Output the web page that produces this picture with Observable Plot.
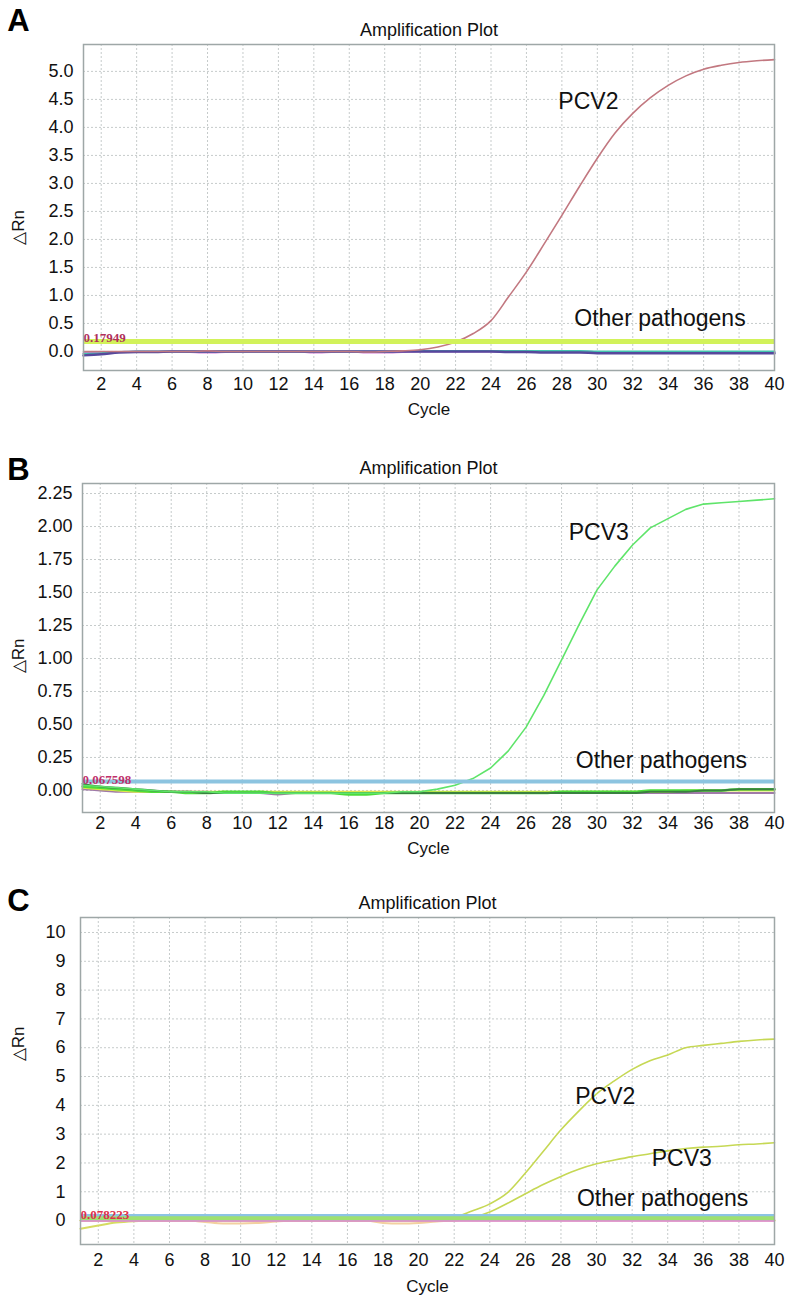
<!DOCTYPE html>
<html>
<head>
<meta charset="utf-8">
<script src="https://cdn.jsdelivr.net/npm/d3@7"></script>
<script src="https://cdn.jsdelivr.net/npm/@observablehq/plot@0.6"></script>
<style>
  html, body { margin: 0; padding: 0; background: white; }
  #chart { width: 786px; }
  #chart svg { display: block; }
</style>
</head>
<body>
<div id="chart"></div>
<script>
// ---------- shared axes ----------
const cycles = [1,2,3,4,5,6,7,8,9,10,11,12,13,14,15,16,17,18,19,20,21,22,23,24,25,26,27,28,29,30,31,32,33,34,35,36,37,38,39,40];
const xTickValues = [2,4,6,8,10,12,14,16,18,20,22,24,26,28,30,32,34,36,38,40];

// ---------- panel A ----------
const aYTicks = [0,0.5,1,1.5,2,2.5,3,3.5,4,4.5,5];
const aPCV2 = [0,0,0,0,0,0,0,0.01,0,0, 0,0,0,0,0,0,-0.01,0,0.01,0.03, 0.08,0.17,0.32,0.55,0.98,1.42,1.92,2.43,2.95,3.45, 3.9,4.25,4.53,4.75,4.92,5.04,5.11,5.16,5.19,5.21];
const aOtherPurple = [-0.07,-0.05,-0.02,-0.01,-0.01,0,0,0,0,0, 0,0,0,0,0,0,0,0,0,0, 0,0,0,0,-0.01,-0.01,-0.02,-0.02,-0.02,-0.03, -0.03,-0.03,-0.03,-0.03,-0.03,-0.03,-0.03,-0.03,-0.03,-0.03];
const aOtherTeal = [-0.04,-0.03,-0.01,0,0,0,0,0,0,0, 0,0,0,0,0,0,0,0,0.01,0.01, 0.01,0.01,0.01,0.01,0.01,0.01,0.01,0.01,0.01,0, 0,0,0,0,0,0,0,0,0,0];
const aOtherMagenta = [-0.03,-0.02,-0.01,0,0,0,-0.01,-0.02,-0.01,0, 0,0,0,-0.02,-0.01,0,-0.02,-0.02,-0.01,0, 0,0,0,0,0,0,0,0,0,-0.01, -0.02,-0.02,-0.02,-0.02,-0.02,-0.02,-0.02,-0.02,-0.02,-0.02];
const aThreshold = 0.17949;

// ---------- panel B ----------
const bYTicks = [0,0.25,0.5,0.75,1,1.25,1.5,1.75,2,2.25];
const bPCV3 = [0.04,0.03,0.02,0.01,0,-0.01,-0.01,-0.01,-0.02,-0.02, -0.02,-0.02,-0.02,-0.02,-0.02,-0.02,-0.02,-0.02,-0.01,-0.01, 0.01,0.04,0.09,0.17,0.3,0.48,0.72,0.99,1.26,1.52, 1.7,1.86,1.99,2.06,2.13,2.17,2.18,2.19,2.2,2.21];
const bOtherDark = [0.05,0.03,0.02,0.01,0,-0.01,-0.01,-0.02,-0.02,-0.02, -0.02,-0.02,-0.02,-0.02,-0.02,-0.02,-0.02,-0.02,-0.02,-0.02, -0.02,-0.02,-0.02,-0.02,-0.02,-0.02,-0.02,-0.02,-0.02,-0.02, -0.02,-0.02,-0.01,-0.01,-0.01,0,0,0.01,0.01,0.01];
const bOtherGreen = [0.03,0.02,0.01,0,-0.01,-0.01,-0.02,-0.02,-0.01,-0.01, -0.01,-0.02,-0.02,-0.02,-0.02,-0.03,-0.03,-0.02,-0.02,-0.02, -0.02,-0.02,-0.02,-0.02,-0.02,-0.02,-0.02,-0.01,-0.01,-0.01, -0.01,-0.01,0,0,0,0,0,0.01,0.01,0.01];
const bOtherYellow = [0.02,0.01,0,-0.01,-0.01,-0.01,-0.01,-0.01,-0.01,-0.02, -0.01,-0.01,-0.01,-0.01,-0.01,-0.01,-0.01,-0.01,-0.01,-0.01, -0.01,-0.01,-0.01,-0.01,-0.01,-0.01,-0.01,-0.01,-0.01,-0.01, -0.01,-0.01,-0.01,-0.01,0,0,0,0,0,0];
const bOtherPurple = [0.01,0,-0.01,-0.01,-0.01,-0.01,-0.01,-0.01,-0.02,-0.02, -0.02,-0.03,-0.02,-0.02,-0.02,-0.02,-0.02,-0.02,-0.02,-0.02, -0.02,-0.02,-0.02,-0.02,-0.02,-0.02,-0.02,-0.02,-0.02,-0.02, -0.02,-0.02,-0.02,-0.02,-0.02,-0.02,-0.02,-0.02,-0.02,-0.02];
const bThreshold = 0.067598;

// ---------- panel C ----------
const cYTicks = [0,1,2,3,4,5,6,7,8,9,10];
const cPCV2 = [0,0,0,0,0,0,0,0,0,0, 0,0,0,0,0,0,0,0,0,0, 0.02,0.1,0.33,0.58,0.97,1.65,2.4,3.15,3.8,4.4, 4.85,5.25,5.55,5.75,6.0,6.08,6.15,6.22,6.27,6.3];
const cPCV3 = [0,0,0,0,0,0,0,0,0,0, 0,0,0,0,0,0,0,0,0,0, 0,0,0.1,0.3,0.6,0.93,1.25,1.53,1.78,1.97, 2.1,2.22,2.32,2.42,2.5,2.55,2.58,2.63,2.66,2.7];
const cOtherYellow = [-0.28,-0.17,-0.07,-0.02,0,0,0,0,0,0, 0,0,0,0,0,0,0,0,0,0, 0,0,0,0,0,0,0,0,0,0, 0,0,0,0,0,0,0,0,0,0];
const cOtherOrange = [0,0,0,0,0,0,0,-0.05,-0.1,-0.1, -0.08,-0.03,0,0,0,0,0,-0.08,-0.1,-0.08, -0.03,0,0,0,0,0,0,0,0,0, 0,0,0,0,0,0,0,0,0,0];
const cThresholdBlue = 0.16;
const cThresholdGreen = 0.078223;
const cThresholdPink = 0.0;

// ---------- drawing ----------
const font = "Liberation Sans, Arial, Helvetica, sans-serif";

function buildPanel(cfg) {
  const grid = {stroke: "#c6cbcb", strokeWidth: 1, strokeDasharray: "2,2"};
  const marks = [
    Plot.ruleX(xTickValues, grid),
    Plot.ruleY(cfg.yTicks, grid),
    ...cfg.others.map(s => Plot.line(cycles, {x: cycles, y: s.values, stroke: s.color, strokeWidth: s.width || 2, curve: "monotone-x"})),
    ...cfg.curves.map(s => Plot.line(cycles, {x: cycles, y: s.values, stroke: s.color, strokeWidth: 1.6, curve: cfg.curve})),
    ...cfg.thresholds.map(t => Plot.ruleY([t.value], {stroke: t.color, strokeWidth: t.width || 4})),
    ...cfg.thresholds.filter(t => t.label).map(t => Plot.text([{x: 1, y: t.value, label: t.label}], {
      x: "x", y: "y", text: "label", textAnchor: "start", lineAnchor: "bottom", dy: t.dy || 0,
      fill: t.labelColor, fontFamily: "Liberation Serif, Times New Roman, serif", fontSize: 13, fontWeight: "bold"
    })),
    Plot.frame({stroke: "#9ea7a7", strokeWidth: 1.5}),
    ...cfg.annotations.map(a => Plot.text([a], {x: "x", y: "y", text: "text", textAnchor: "start", lineAnchor: "bottom", fontSize: 23, fontFamily: font, fill: "#111"})),
    Plot.text(["Amplification Plot"], {frameAnchor: "top", lineAnchor: "middle", textAnchor: "middle", dy: cfg.titleDy, fontSize: 18, fontFamily: font, fill: "#111"}),
    Plot.text([cfg.letter], {frameAnchor: "top-left", lineAnchor: "middle", textAnchor: "middle", dx: cfg.letterDx, dy: cfg.letterDy, fontSize: 31, fontWeight: "bold", fontFamily: font, fill: "#000"}),
    Plot.text(["Cycle"], {frameAnchor: "bottom", lineAnchor: "middle", textAnchor: "middle", dy: cfg.cycleDy, fontSize: 17, fontFamily: font, fill: "#111"}),
    Plot.text(["\u25B3Rn"], {frameAnchor: "left", lineAnchor: "middle", textAnchor: "middle", dx: cfg.rnDx, dy: cfg.rnDy, rotate: -90, fontSize: 17, fontFamily: font, fill: "#111"})
  ];
  return Plot.plot({
    width: 786,
    height: cfg.height,
    marginTop: cfg.marginTop,
    marginRight: 12,
    marginBottom: cfg.marginBottom,
    marginLeft: cfg.marginLeft,
    style: {fontFamily: font, fontSize: "18px", color: "#111", background: "white", overflow: "visible"},
    x: {domain: [1, 40], ticks: xTickValues, tickFormat: d => String(d), tickSize: 0, tickPadding: cfg.xPad, label: null},
    y: {domain: cfg.yDomain, ticks: cfg.yTicks, tickFormat: cfg.yFormat, tickSize: 0, tickPadding: cfg.yPad, label: null},
    marks
  });
}

const chart = document.getElementById("chart");

chart.append(buildPanel({
  letter: "A", height: 425, marginTop: 44, marginBottom: 55, marginLeft: 83,
  yDomain: [-0.34, 5.48], yTicks: aYTicks, yFormat: d3.format(".1f"), xPad: 7, yPad: 10,
  curve: "monotone-x",
  others: [
    {values: aOtherMagenta, color: "#d27ad6"},
    {values: aOtherTeal, color: "#43c4ae"},
    {values: aOtherPurple, color: "#56489c", width: 2.5}
  ],
  curves: [{values: aPCV2, color: "#c27880"}],
  thresholds: [{value: aThreshold, color: "#d2f25a", width: 5, label: "0.17949", labelColor: "#b0305a", dy: 1}],
  annotations: [{x: 27.8, y: 4.32, text: "PCV2"}, {x: 28.7, y: 0.45, text: "Other pathogens"}],
  titleDy: -14, letterDx: -65, letterDy: -23, cycleDy: 39, rnDx: -65, rnDy: 20
}));

chart.append(buildPanel({
  letter: "B", height: 440, marginTop: 58, marginBottom: 53, marginLeft: 82,
  yDomain: [-0.167, 2.326], yTicks: bYTicks, yFormat: d3.format(".2f"), xPad: 4, yPad: 10,
  curve: "linear",
  others: [
    {values: bOtherPurple, color: "#a07aa8"},
    {values: bOtherYellow, color: "#dde84a"},
    {values: bOtherGreen, color: "#4cdc3a", width: 2.5},
    {values: bOtherDark, color: "#3a8040"}
  ],
  curves: [{values: bPCV3, color: "#5fe46a"}],
  thresholds: [{value: bThreshold, color: "#8cc4e0", width: 4, label: "0.067598", labelColor: "#c0306a", dy: 2}],
  annotations: [{x: 28.4, y: 1.9, text: "PCV3"}, {x: 28.8, y: 0.17, text: "Other pathogens"}],
  titleDy: -15, letterDx: -64, letterDy: -13, cycleDy: 36, rnDx: -64, rnDy: 8
}));

chart.append(buildPanel({
  letter: "C", height: 433, marginTop: 52, marginBottom: 54, marginLeft: 80,
  yDomain: [-0.83, 10.52], yTicks: cYTicks, yFormat: d3.format("d"), xPad: 9, yPad: 15,
  curve: "monotone-x",
  others: [
    {values: cOtherOrange, color: "#f2d0a0"},
    {values: cOtherYellow, color: "#d6dc62"}
  ],
  curves: [{values: cPCV3, color: "#c6d854"}, {values: cPCV2, color: "#c6d854"}],
  thresholds: [
    {value: cThresholdPink, color: "#e284e0", width: 2.5},
    {value: cThresholdBlue, color: "#8cc4e4", width: 4},
    {value: cThresholdGreen, color: "#9ee070", width: 4, label: "0.078223", labelColor: "#e0304a", dy: 1}
  ],
  annotations: [{x: 28.8, y: 4.03, text: "PCV2"}, {x: 33.1, y: 1.91, text: "PCV3"}, {x: 28.9, y: 0.49, text: "Other pathogens"}],
  titleDy: -14, letterDx: -62, letterDy: -16, cycleDy: 42, rnDx: -62, rnDy: -37
}));
</script>
</body>
</html>
